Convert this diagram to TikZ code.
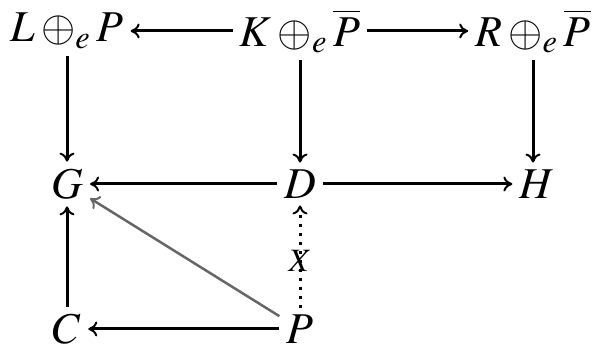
\documentclass[tikz,border=0pt]{standalone}
\usepackage{mathptmx}
\usetikzlibrary{arrows.meta}
\begin{document}
\begin{tikzpicture}[x=1pt,y=-1pt,
  obj/.style={inner sep=7pt, font=\fontsize{44}{50}\selectfont},
  low/.style={inner ysep=2pt},
  arr/.style={line width=3pt, -{To[length=9pt,width=15pt,line width=2pt]}},
  grayarr/.style={line width=2.5pt, draw=black!60, -{To[length=9pt,width=15pt,line width=2pt]}},
  dotarr/.style={line width=3pt, dash pattern=on 3pt off 6pt, -{To[length=9pt,width=15pt,line width=2pt]}},
  lab/.style={inner sep=1pt, font=\fontsize{44}{50}\selectfont}]
\useasboundingbox (0,0) rectangle (595,347);
\node[obj] (LP) at (67,31) {$L\oplus_e P$};
\node[obj] (KP) at (300,31) {$K\oplus_e \overline{P}$};
\node[obj] (RP) at (533,31) {$R\oplus_e \overline{P}$};
\node[obj] (G) at (67,184) {$G$};
\node[obj] (D) at (300,184) {$D$};
\node[obj] (H) at (537,184) {$H$};
\node[obj,low] (C) at (67,329) {$C$};
\node[obj,low] (P) at (300,329) {$P$};
\draw[arr] (KP) -- (LP);
\draw[arr] (KP) -- (RP);
\draw[arr] (LP.south) -- (G.north);
\draw[arr] (KP.south) -- (D.north);
\draw[arr] (RP.south) -- (RP.south |- H.north);
\draw[arr] (D) -- (G);
\draw[arr] (D) -- (H);
\draw[arr, shorten <=5pt] (C) -- (G);
\draw[arr] (P) -- (C);
\draw[grayarr] (P) -- (G);
\draw[dotarr, shorten <=5pt] (P) -- node[lab, pos=0.48]{$\scriptstyle X$} (D);
\end{tikzpicture}
\end{document}
